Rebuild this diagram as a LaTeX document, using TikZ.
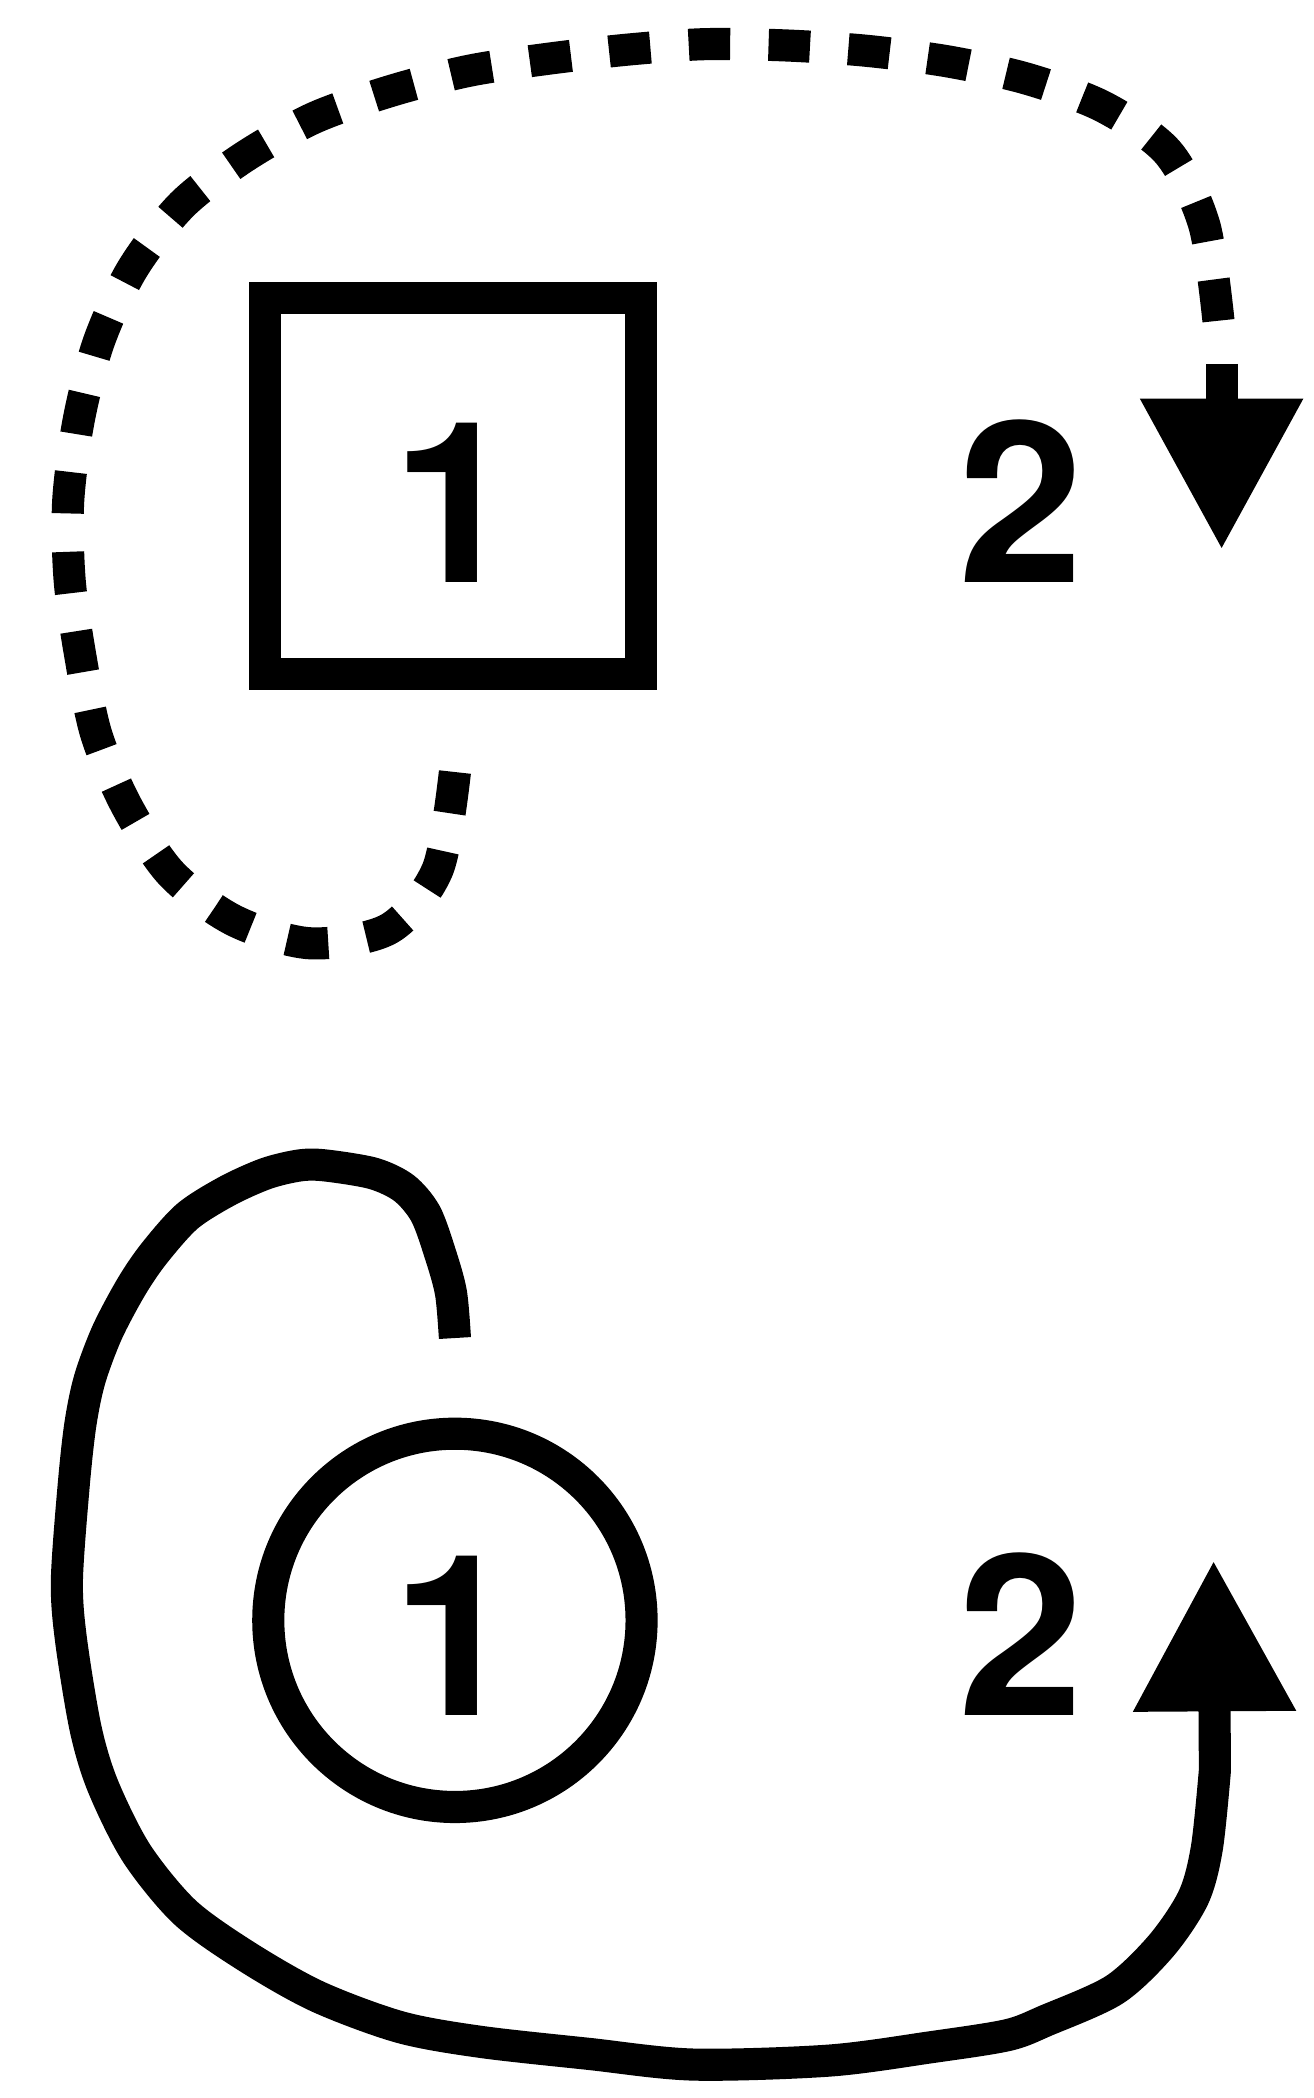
\documentclass[tikz,border=0pt]{standalone}
\usepackage{fontspec}
\setmainfont{TeX Gyre Heros}
\usetikzlibrary{arrows.meta}
\tikzset{
  heavy/.style={line width=24pt},
  digit/.style={font=\fontsize{168}{168}\selectfont\bfseries, inner sep=0pt, anchor=base},
  bigtip/.style={-{Triangle[width=115pt,length=113pt]}}
}
\begin{document}
\begin{tikzpicture}[x=1pt,y=-1pt]
  \useasboundingbox (0,0) rectangle (982,1568);
  \node[draw,heavy,minimum size=281pt,inner sep=0pt] (sqone) at (338.5,363.5) {};
  \node[digit] (numsq) at (340,435) {1};
  \node[digit] (twotop) at (763,435) {2};
  \coordinate (dstart) at (340,577);
  \coordinate (dend) at (911,243);
  \coordinate (dstem) at (913,272);
  \coordinate (dtip) at (913,411);
  \draw[heavy,dash pattern=on 31pt off 28.7pt] plot[smooth] coordinates {(dstart) (327,650) (291,694) (232,705)
    (175,688) (128,653) (95,603) (72,549) (60,490) (52,433) (51,374) (59,313) (74,255) (99,201)
    (136,153) (183,117) (235,88) (292,68) (350,53) (409,44) (470,37) (527,33) (588,34) (648,38)
    (709,46) (768,59) (825,80) (873,114) (900,168) (dend)};
  \draw[heavy,bigtip] (dstem) -- (dtip);

  \node[draw,heavy,circle,minimum size=279pt,inner sep=0pt] (circone) at (340,1211) {};
  \node[digit] (numcirc) at (340,1282) {1};
  \node[digit] (twobot) at (763,1282) {2};
  \coordinate (sstart) at (340,1000);
  \coordinate (sstem) at (908,1323);
  \coordinate (stip) at (907,1166);
  \draw[heavy,bigtip] plot[smooth] coordinates {(sstart) (337,966) (329,937) (318,907) (302,888) (279,877)
    (243,871) (224,871) (199,877) (170,890) (140,909) (115,937) (98,962) (80,996) (67,1031) (60,1065)
    (55,1111) (50,1181) (53,1225) (64,1292) (77,1335) (102,1385) (138,1429) (184,1462) (237,1492)
    (299,1515) (359,1526) (440,1535) (518,1543) (620,1540) (696,1530) (753,1521) (782,1510)
    (833,1487) (868,1454) (892,1418) (902,1381) (sstem)} -- (stip);
\end{tikzpicture}
\end{document}
